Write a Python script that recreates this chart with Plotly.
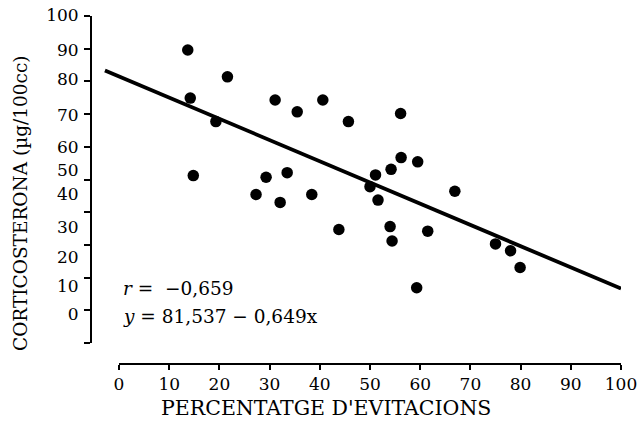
import plotly.graph_objects as go

# Data
evitacions = [13.7, 14.2, 14.8, 19.3, 21.6, 27.3, 29.3, 31.1, 32.1, 33.5,
              35.5, 38.4, 40.6, 43.8, 45.7, 50.0, 51.1, 51.6, 54.0, 54.2,
              54.4, 56.1, 56.2, 59.3, 59.5, 61.5, 66.9, 75.0, 78.0, 79.9]
corticosterona = [89.6, 74.9, 51.2, 67.7, 81.4, 45.4, 50.7, 74.3, 43.0, 52.1,
                  70.7, 45.4, 74.3, 34.7, 67.7, 47.8, 51.4, 43.7, 35.6, 53.1,
                  31.2, 70.2, 56.7, 16.9, 55.4, 34.2, 46.4, 30.3, 28.2, 23.1]

# Regression printed on the chart
intercept = 81.537
slope = -0.649
fit_x = [-2.8, 100]
fit_y = [intercept + slope * v for v in fit_x]

x_ticks = list(range(0, 101, 10))
y_ticks = list(range(0, 101, 10))
# y tick labels, placed where the reference prints them
y_label_text = ["100", "90", "80", "70", "60", "50", "40", "30", "20", "10", "0"]
y_label_pos = [100.3, 89.6, 80.7, 69.7, 59.9, 52.9, 45.6, 35.5, 26.3, 17.4, 8.9]

W, H = 638, 422
L, R, T, B = 91, 17, 6, 58
pw, ph = W - L - R, H - T - B
x_px_per_unit = 5.02
y_px_per_unit = 3.27
x_min = -28 / x_px_per_unit
y_min = -21 / y_px_per_unit
y_max = 100 + 10 / y_px_per_unit


def py(px):
    """paper y for a pixel row"""
    return (H - B - px) / ph


def px_(x):
    """paper x for a pixel column"""
    return (x - L) / pw


FONT = "DejaVu Serif"
TRANSPARENT = "rgba(0,0,0,0)"

fig = go.Figure()
fig.add_trace(go.Scatter(x=evitacions, y=corticosterona, mode="markers",
                         marker=dict(size=11.5, color="black"),
                         showlegend=False, hoverinfo="skip"))
fig.add_trace(go.Scatter(x=fit_x, y=fit_y, mode="lines",
                         line=dict(color="black", width=3.8),
                         showlegend=False, hoverinfo="skip"))
# carrier trace for the drawn axes
fig.add_trace(go.Scatter(x=[0], y=[0], mode="none", xaxis="x2", yaxis="y2",
                         showlegend=False, hoverinfo="skip"))

fig.update_layout(
    width=W, height=H,
    margin=dict(l=L, r=R, t=T, b=B, autoexpand=False),
    paper_bgcolor="white", plot_bgcolor=TRANSPARENT,
    font=dict(family=FONT, color="black", size=17),
    xaxis=dict(domain=[0, 1], range=[x_min, 100], visible=False, fixedrange=True,
               automargin=False),
    yaxis=dict(domain=[0, 1], range=[y_min, y_max], showgrid=False, zeroline=False,
               showline=False, tickmode="array", tickvals=y_label_pos,
               ticktext=y_label_text, ticks="outside", ticklen=8,
               tickcolor=TRANSPARENT, tickfont=dict(family=FONT, size=17),
               automargin=False),
    xaxis2=dict(domain=[28 / pw, 1], range=[0, 100], anchor="free", position=0,
                showgrid=False, zeroline=False, showline=True, linecolor="black",
                linewidth=1.5, ticks="outside", ticklen=5, tickwidth=1.5,
                tickcolor="black", tickmode="array", tickvals=x_ticks,
                tickfont=dict(family=FONT, size=17), automargin=False),
    yaxis2=dict(domain=[21 / ph, (ph - 10) / ph], range=[0, 100], anchor="free",
                position=0, showgrid=False, zeroline=False, showline=True,
                linecolor="black", linewidth=1.5, ticks="outside", ticklen=6,
                tickwidth=1.5, tickcolor="black", tickmode="array",
                tickvals=y_ticks, showticklabels=False, automargin=False),
)

fig.add_annotation(text="PERCENTATGE D'EVITACIONS", xref="paper", yref="paper",
                   x=px_(326), y=py(408), xanchor="center", yanchor="middle",
                   showarrow=False, font=dict(family=FONT, size=20.5))
fig.add_annotation(text="CORTICOSTERONA (µg/100cc)", xref="paper", yref="paper",
                   x=px_(20), y=py(203), textangle=-90,
                   xanchor="center", yanchor="middle", showarrow=False,
                   font=dict(family=FONT, size=18.5))
fig.add_annotation(text="<i>r</i> =  \u22120,659", xref="paper", yref="paper",
                   x=px_(121), y=py(288), xanchor="left", yanchor="middle",
                   showarrow=False, font=dict(family=FONT, size=18.5))
fig.add_annotation(text="<i>y</i> = 81,537 \u2212 0,649x", xref="paper", yref="paper",
                   x=px_(121), y=py(316), xanchor="left", yanchor="middle",
                   showarrow=False, font=dict(family=FONT, size=18.5))

fig.write_html("out.html")
